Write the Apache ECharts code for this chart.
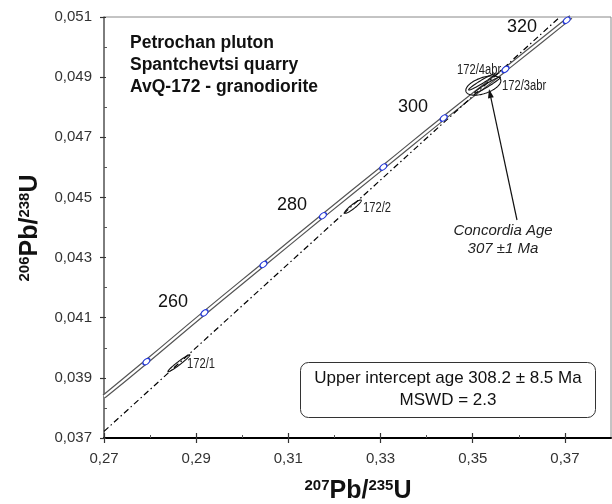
<!DOCTYPE html>
<html>
<head>
<meta charset="utf-8">
<script src="https://cdn.jsdelivr.net/npm/echarts@6/dist/echarts.min.js"></script>
<style>
  html, body { margin: 0; padding: 0; background: #fff; }
  #concordia { width: 612px; height: 504px; }
</style>
</head>
<body>
<div id="concordia"></div>
<script>
// 刻度
var xTicks = [0.27, 0.29, 0.31, 0.33, 0.35, 0.37];
var xMinorTicks = [0.28, 0.30, 0.32, 0.34, 0.36];
var yTicks = [0.037, 0.039, 0.041, 0.043, 0.045, 0.047, 0.049, 0.051];
var yMinorTicks = [0.038, 0.040, 0.042, 0.044, 0.046, 0.048, 0.050];

// concordia curve (207Pb/235U vs 206Pb/238U)
var concordiaX = [0.2700, 0.2792, 0.2918, 0.3046, 0.3175, 0.3306, 0.3437, 0.3571, 0.3704, 0.3713];
var concordiaY = [0.03838, 0.03954, 0.04116, 0.04277, 0.04439, 0.04601, 0.04764, 0.04926, 0.05089, 0.05100];

// age marks on the concordia (Ma)
var markAges = [250, 260, 270, 280, 290, 300, 310, 320];
var markX = [0.2792, 0.2918, 0.3046, 0.3175, 0.3306, 0.3437, 0.3571, 0.3704];
var markY = [0.03954, 0.04116, 0.04277, 0.04439, 0.04601, 0.04764, 0.04926, 0.05089];

// discordia
var discordiaX = [0.2700, 0.3689];
var discordiaY = [0.03722, 0.05100];

// analyses: centre, half widths, correlation
var spotNames = ['172/1', '172/2', '172/4abr', '172/3abr'];
var spotX = [0.28625, 0.32402, 0.35191, 0.35321];
var spotY = [0.039485, 0.044694, 0.048837, 0.048738];
var spotSx = [0.00238, 0.0018, 0.0028, 0.0028];
var spotSy = [0.000282, 0.000222, 0.000266, 0.000266];
var spotRho = [0.97, 0.92, 0.97, 0.97];

// concordia age ellipse
var ageX = [0.3523];
var ageY = [0.04872];
var ageSx = [0.0038];
var ageSy = [0.00032];
var ageRho = [0.5];

var FONT = "'Liberation Sans', Arial, sans-serif";

function fmt(d) {
  return function (v) { return v.toFixed(d).replace('.', ','); };
}

// 误差椭圆
function ellipseItem(params, api) {
  var cx = api.value(0), cy = api.value(1);
  var sx = api.value(2), sy = api.value(3), rho = api.value(4);
  var k = Math.sqrt(1 - rho * rho);
  var pts = [];
  for (var i = 0; i < 90; i++) {
    var t = i / 90 * Math.PI * 2;
    pts.push(api.coord([cx + sx * Math.cos(t), cy + sy * (rho * Math.cos(t) + k * Math.sin(t))]));
  }
  return {
    type: 'polygon',
    shape: { points: pts },
    style: { fill: 'none', stroke: '#111', lineWidth: 1.1 }
  };
}

function zip(xs, ys) {
  return xs.map(function (x, i) { return [x, ys[i]]; });
}

function xAxisOf(ticks, opts) {
  return Object.assign({
    type: 'value', min: 0.27, max: 0.38, position: 'bottom',
    axisLine: { show: false, onZero: false },
    axisTick: { show: true, customValues: ticks, inside: true, length: 5, lineStyle: { color: '#333', width: 1.2 } },
    axisLabel: { show: false },
    splitLine: { show: false }
  }, opts);
}
function yAxisOf(ticks, opts) {
  return Object.assign({
    type: 'value', min: 0.037, max: 0.051, position: 'left',
    axisLine: { show: false, onZero: false },
    axisTick: { show: true, customValues: ticks, inside: true, length: 2, lineStyle: { color: '#333', width: 1.2 } },
    axisLabel: { show: false },
    splitLine: { show: false }
  }, opts);
}

// narrow sample label
function spotLabel(name, x, y) {
  return {
    type: 'text', x: x, y: y, z: 100, scaleX: 0.8,
    style: { text: name, font: '14px ' + FONT, fill: '#222', verticalAlign: 'middle' }
  };
}
function ageLabel(txt, x, y) {
  return {
    type: 'text', x: x, y: y, z: 100,
    style: { text: txt, font: '18px ' + FONT, fill: '#111', align: 'center', verticalAlign: 'middle' }
  };
}

var myChart = echarts.init(document.getElementById('concordia'), null, { renderer: 'canvas' });
var option;

var ellipseData = spotX.map(function (x, i) { return [x, spotY[i], spotSx[i], spotSy[i], spotRho[i]]; });
var ageData = ageX.map(function (x, i) { return [x, ageY[i], ageSx[i], ageSy[i], ageRho[i]]; });

option = {
  animation: false,
  backgroundColor: '#fff',
  grid: { left: 104, right: 1, top: 17, bottom: 66, show: true, borderColor: '#888', borderWidth: 1 },
  xAxis: [
    xAxisOf(xTicks, {
      axisLine: { show: true, onZero: false, lineStyle: { color: '#000', width: 2 } },
      axisTick: { show: true, customValues: xTicks, inside: false, length: 5, lineStyle: { color: '#333', width: 1.2 } },
      axisLabel: { show: true, customValues: xTicks, formatter: fmt(2), fontSize: 15, color: '#333', margin: 13, fontFamily: FONT }
    }),
    xAxisOf(xTicks, {}),
    xAxisOf(xMinorTicks, { axisTick: { show: true, customValues: xMinorTicks, inside: true, length: 3, lineStyle: { color: '#555', width: 1 } } })
  ],
  yAxis: [
    yAxisOf(yTicks, {
      axisLine: { show: true, onZero: false, lineStyle: { color: '#666', width: 1.5 } },
      axisTick: { show: true, customValues: yTicks, inside: false, length: 4, lineStyle: { color: '#333', width: 1.2 } },
      axisLabel: { show: true, customValues: yTicks, formatter: fmt(3), fontSize: 15, color: '#333', margin: 12, fontFamily: FONT }
    }),
    yAxisOf(yTicks, {}),
    yAxisOf(yMinorTicks, { axisTick: { show: true, customValues: yMinorTicks, inside: true, length: 3, lineStyle: { color: '#555', width: 1 } } })
  ],
  series: [
    {
      // concordia band, outer lines
      type: 'line', data: zip(concordiaX, concordiaY), showSymbol: false, smooth: true, z: 2,
      lineStyle: { color: '#555', width: 4.6 }, silent: true
    },
    {
      type: 'line', data: zip(concordiaX, concordiaY), showSymbol: false, smooth: true, z: 3,
      lineStyle: { color: '#fff', width: 2.2 }, silent: true
    },
    {
      name: 'discordia', type: 'line', data: zip(discordiaX, discordiaY), showSymbol: false, z: 4,
      lineStyle: { color: '#000', width: 1.2, type: [6, 3, 1.5, 3] }
    },
    {
      name: 'age marks', type: 'scatter', data: zip(markX, markY), z: 10,
      symbol: 'circle', symbolSize: [8, 5], symbolRotate: 40,
      itemStyle: { color: '#fff', borderColor: '#2438d8', borderWidth: 1.3, opacity: 1 }
    },
    {
      name: 'analyses', type: 'custom', renderItem: ellipseItem, data: ellipseData, z: 11,
      encode: { x: 0, y: 1 }
    },
    {
      name: 'concordia age', type: 'custom', renderItem: ellipseItem, data: ageData, z: 11,
      encode: { x: 0, y: 1 }
    }
  ],
  graphic: [
    // 标题
    { type: 'text', left: 130, top: 34, z: 100, style: { text: 'Petrochan pluton', font: 'bold 17.5px ' + FONT, fill: '#111' } },
    { type: 'text', left: 130, top: 56, z: 100, style: { text: 'Spantchevtsi quarry', font: 'bold 17.5px ' + FONT, fill: '#111' } },
    { type: 'text', left: 130, top: 78, z: 100, style: { text: 'AvQ-172 - granodiorite', font: 'bold 17.5px ' + FONT, fill: '#111' } },

    // age labels
    ageLabel('260', 173, 302),
    ageLabel('280', 292, 205),
    ageLabel('300', 413, 107),
    ageLabel('320', 522, 27),

    // spot labels
    spotLabel(spotNames[0], 187, 364),
    spotLabel(spotNames[1], 363, 208),
    spotLabel(spotNames[2], 457, 70),
    spotLabel(spotNames[3], 502, 86),

    // concordia age note + arrow
    { type: 'text', x: 503, y: 231, z: 100, style: { text: 'Concordia Age', font: 'italic 15px ' + FONT, fill: '#222', align: 'center', verticalAlign: 'middle' } },
    { type: 'text', x: 503, y: 249, z: 100, style: { text: '307 ±1 Ma', font: 'italic 15px ' + FONT, fill: '#222', align: 'center', verticalAlign: 'middle' } },
    { type: 'line', z: 100, shape: { x1: 517, y1: 220, x2: 490.9, y2: 97.8 }, style: { stroke: '#111', lineWidth: 1.2 } },
    { type: 'polygon', z: 100, shape: { points: [[489, 89], [493.8, 97.2], [488.0, 98.4]] }, style: { fill: '#111' } },

    // upper intercept box
    { type: 'rect', z: 100, shape: { x: 300.5, y: 362.5, width: 295, height: 55, r: 8 }, style: { fill: '#fff', stroke: '#333', lineWidth: 1 } },
    { type: 'text', x: 448, y: 378, z: 101, style: { text: 'Upper intercept age 308.2 ± 8.5 Ma', font: '17px ' + FONT, fill: '#111', align: 'center', verticalAlign: 'middle' } },
    { type: 'text', x: 448, y: 400, z: 101, style: { text: 'MSWD = 2.3', font: '17px ' + FONT, fill: '#111', align: 'center', verticalAlign: 'middle' } },

    // axis titles
    {
      type: 'text', x: 358, y: 491, z: 100,
      style: {
        text: '{s|207}{b|Pb/}{s|235}{b|U}', align: 'center', verticalAlign: 'middle',
        rich: {
          s: { fontSize: 15, fontWeight: 'bold', fontFamily: FONT, fill: '#111', verticalAlign: 'top', lineHeight: 26 },
          b: { fontSize: 25, fontWeight: 'bold', fontFamily: FONT, fill: '#111', lineHeight: 26 }
        }
      }
    },
    {
      type: 'text', x: 30, y: 228, z: 100, rotation: Math.PI / 2,
      style: {
        text: '{s|206}{b|Pb/}{s|238}{b|U}', align: 'center', verticalAlign: 'middle',
        rich: {
          s: { fontSize: 15, fontWeight: 'bold', fontFamily: FONT, fill: '#111', verticalAlign: 'top', lineHeight: 26 },
          b: { fontSize: 25, fontWeight: 'bold', fontFamily: FONT, fill: '#111', lineHeight: 26 }
        }
      }
    }
  ]
};

option && myChart.setOption(option);
</script>
</body>
</html>
